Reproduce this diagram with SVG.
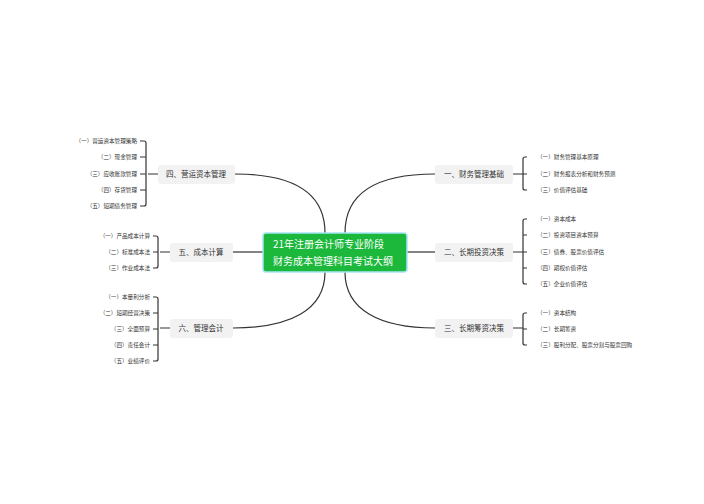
<svg xmlns="http://www.w3.org/2000/svg" width="704" height="504" viewBox="0 0 704 504">
<style>
text{font-family:"Noto Sans CJK SC","Noto Sans",sans-serif;fill:#333}
.n{font-size:7.5px;text-anchor:middle}
.l{font-size:5.6px}
.r{text-anchor:end}
.c{fill:none;stroke:#333;stroke-width:1.2}
.b{fill:#f2f2f2}
</style>
<rect width="704" height="504" fill="#fff"/>
<g id="connectors" class="c">
<path d="M345 233C345 190 380 174 435 174"/>
<path d="M407 252H435"/>
<path d="M345 272C345 310 380 328 435 328"/>
<path d="M325 233C325 190 290 174 235 174"/>
<path d="M233 252H263"/>
<path d="M325 272C325 310 290 328 233 328"/>
<path d="M513 174H523M527 157h-2a2 2 0 0 0-2 2v29a2 2 0 0 0 2 2h2M523 174h4"/>
<path d="M513 252H523M527 219h-2a2 2 0 0 0-2 2v61a2 2 0 0 0 2 2h2M523 235h4M523 252h4M523 268h4"/>
<path d="M513 328H523M527 313h-2a2 2 0 0 0-2 2v28a2 2 0 0 0 2 2h2M523 329h4"/>
<path d="M158 174H148M140 141h4a2 2 0 0 1 2 2v61a2 2 0 0 1-2 2h-4M146 157h-6M146 174h-6M146 190h-6"/>
<path d="M170 252H160M153 236h3a2 2 0 0 1 2 2v28a2 2 0 0 1-2 2h-3M158 252h-5"/>
<path d="M170 328H160M153 297h3a2 2 0 0 1 2 2v60a2 2 0 0 1-2 2h-3M158 313h-5M158 329h-5M158 345h-5"/>
</g>
<g id="center"><rect x="263" y="233" width="144" height="39" rx="3" fill="#1cb83c" stroke="#a6e3f5" stroke-width="1.5"/>
<text x="273" y="248" style="font-size:10px;fill:#fff">21年注册会计师专业阶段</text>
<text x="273" y="265" style="font-size:10px;fill:#fff">财务成本管理科目考试大纲</text></g>
<g id="n1"><rect class="b" x="435" y="165" width="78" height="19" rx="3"/><text class="n" x="474" y="177">一、财务管理基础</text>
<text class="l" x="537" y="159">（一）财务管理基本原理</text><text class="l" x="537" y="176">（二）财务报表分析和财务预测</text><text class="l" x="537" y="192">（三）价值评估基础</text></g>
<g id="n2"><rect class="b" x="435" y="243" width="78" height="19" rx="3"/><text class="n" x="474" y="255">二、长期投资决策</text>
<text class="l" x="537" y="221">（一）资本成本</text><text class="l" x="537" y="237">（二）投资项目资本预算</text><text class="l" x="537" y="254">（三）债券、股票价值评估</text><text class="l" x="537" y="270">（四）期权价值评估</text><text class="l" x="537" y="286">（五）企业价值评估</text></g>
<g id="n3"><rect class="b" x="435" y="319" width="78" height="19" rx="3"/><text class="n" x="474" y="331">三、长期筹资决策</text>
<text class="l" x="537" y="315">（一）资本结构</text><text class="l" x="537" y="331">（二）长期筹资</text><text class="l" x="537" y="347">（三）股利分配、股票分割与股票回购</text></g>
<g id="n4"><rect class="b" x="158" y="165" width="77" height="19" rx="3"/><text class="n" x="196" y="177">四、营运资本管理</text>
<text class="l r" x="137" y="143">（一）营运资本管理策略</text><text class="l r" x="137" y="159">（二）现金管理</text><text class="l r" x="137" y="176">（三）应收账款管理</text><text class="l r" x="137" y="192">（四）存货管理</text><text class="l r" x="137" y="208">（五）短期债务管理</text></g>
<g id="n5"><rect class="b" x="170" y="243" width="63" height="19" rx="3"/><text class="n" x="201" y="255">五、成本计算</text>
<text class="l r" x="150" y="238">（一）产品成本计算</text><text class="l r" x="150" y="254">（二）标准成本法</text><text class="l r" x="150" y="270">（三）作业成本法</text></g>
<g id="n6"><rect class="b" x="170" y="319" width="63" height="19" rx="3"/><text class="n" x="201" y="331">六、管理会计</text>
<text class="l r" x="150" y="299">（一）本量利分析</text><text class="l r" x="150" y="315">（二）短期经营决策</text><text class="l r" x="150" y="331">（三）全面预算</text><text class="l r" x="150" y="347">（四）责任会计</text><text class="l r" x="150" y="363">（五）业绩评价</text></g>
</svg>
